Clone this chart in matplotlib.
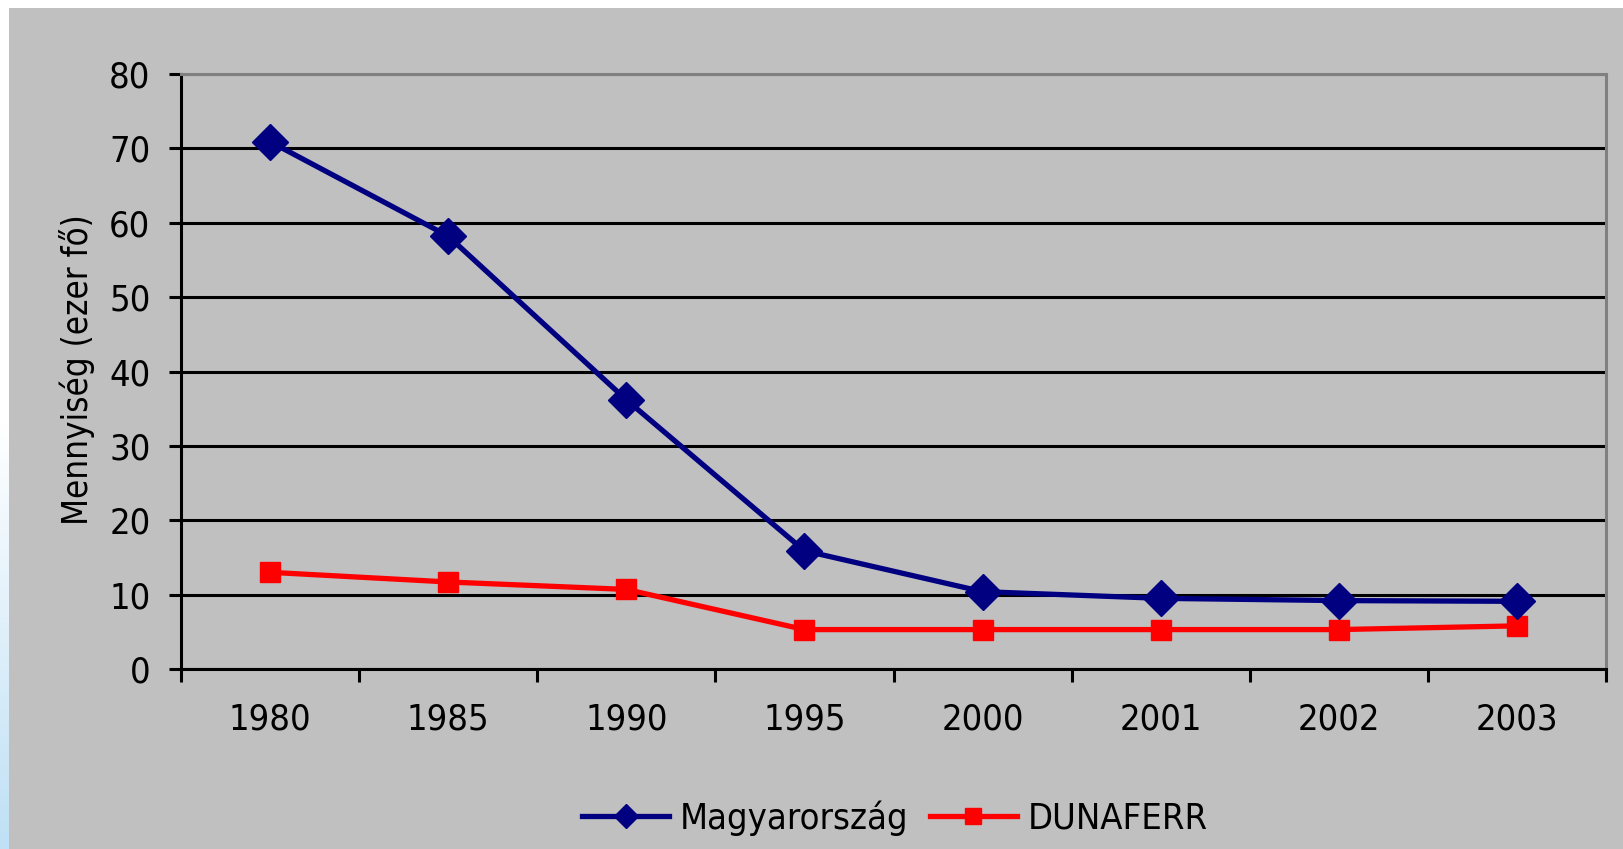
import matplotlib
matplotlib.use("Agg")
import matplotlib.pyplot as plt
import numpy as np
from matplotlib.lines import Line2D
from matplotlib.patches import Rectangle

# data
years = ["1980", "1985", "1990", "1995", "2000", "2001", "2002", "2003"]
magyarorszag = [70.9, 58.2, 36.2, 15.9, 10.4, 9.5, 9.2, 9.1]
dunaferr = [13.0, 11.7, 10.7, 5.3, 5.3, 5.3, 5.3, 5.8]
yticks = [0, 10, 20, 30, 40, 50, 60, 70, 80]

W, H = 1623, 849
plt.rcParams['font.family'] = ['DejaVu Sans']
plt.rcParams['font.stretch'] = 'condensed'

fig = plt.figure(figsize=(W / 100, H / 100), dpi=100)
fig.patch.set_facecolor("white")

# light blue strip on the left edge, fading to white upwards
grad = np.linspace(0, 1, 256).reshape(-1, 1)
bg = fig.add_axes([0, 0, 9 / W, 1], zorder=-5)
bg.imshow(grad, aspect="auto", cmap=matplotlib.colors.LinearSegmentedColormap.from_list(
    "fade", ["#bfe0f5", "#ffffff", "#ffffff"]), origin="lower", extent=[0, 1, 0, 1])
bg.axis("off")

# gray chart area
fig.patches.append(Rectangle((9 / W, 0), 1 - 9 / W, 1 - 8 / H, transform=fig.transFigure,
                             facecolor="#c0c0c0", edgecolor="none", zorder=-10))

left, right, top, bottom = 181, 1606, 74, 669
ax = fig.add_axes([left / W, 1 - bottom / H, (right - left) / W, (bottom - top) / H])
ax.set_facecolor("#c0c0c0")

x = np.arange(len(years))
ax.plot(x, magyarorszag, color="#000080", lw=3.8, marker="D", ms=18, zorder=4)
ax.plot(x, dunaferr, color="#ff0000", lw=3.8, marker="s", ms=14, zorder=3)

ax.set_xlim(-0.5, len(years) - 0.5)
ax.set_ylim(0, 80)
ax.set_yticks(yticks)
ax.yaxis.grid(True, color="black", lw=2.2)
ax.set_axisbelow(True)

ax.set_xticks(x)
ax.set_xticklabels(years)
ax.set_xticks(np.arange(-0.5, len(years)), minor=True)
ax.tick_params(axis="x", which="major", length=0, pad=24, labelsize=26)
ax.tick_params(axis="x", which="minor", length=9, width=2.2, direction="out")
ax.tick_params(axis="y", length=9, width=2.2, pad=13, labelsize=26)

for s in ["left", "bottom"]:
    ax.spines[s].set_color("black")
    ax.spines[s].set_linewidth(2.2)
for s in ["top", "right"]:
    ax.spines[s].set_color("#808080")
    ax.spines[s].set_linewidth(2.2)

fig.text(77 / W, 1 - 370 / H, "Mennyiség (ezer fő)", rotation=90, ha="center", va="center",
         fontsize=25)

handles = [
    Line2D([], [], color="#000080", lw=3.8, marker="D", ms=12),
    Line2D([], [], color="#ff0000", lw=3.8, marker="s", ms=12),
]
fig.legend(handles, ["Magyarország", "DUNAFERR"], loc="center", bbox_to_anchor=(895 / W, 1 - 818 / H),
           ncol=2, frameon=False, fontsize=26, handlelength=2.4, handletextpad=0.3, columnspacing=0.6)

fig.savefig("out.png", dpi=100, facecolor=fig.get_facecolor())
